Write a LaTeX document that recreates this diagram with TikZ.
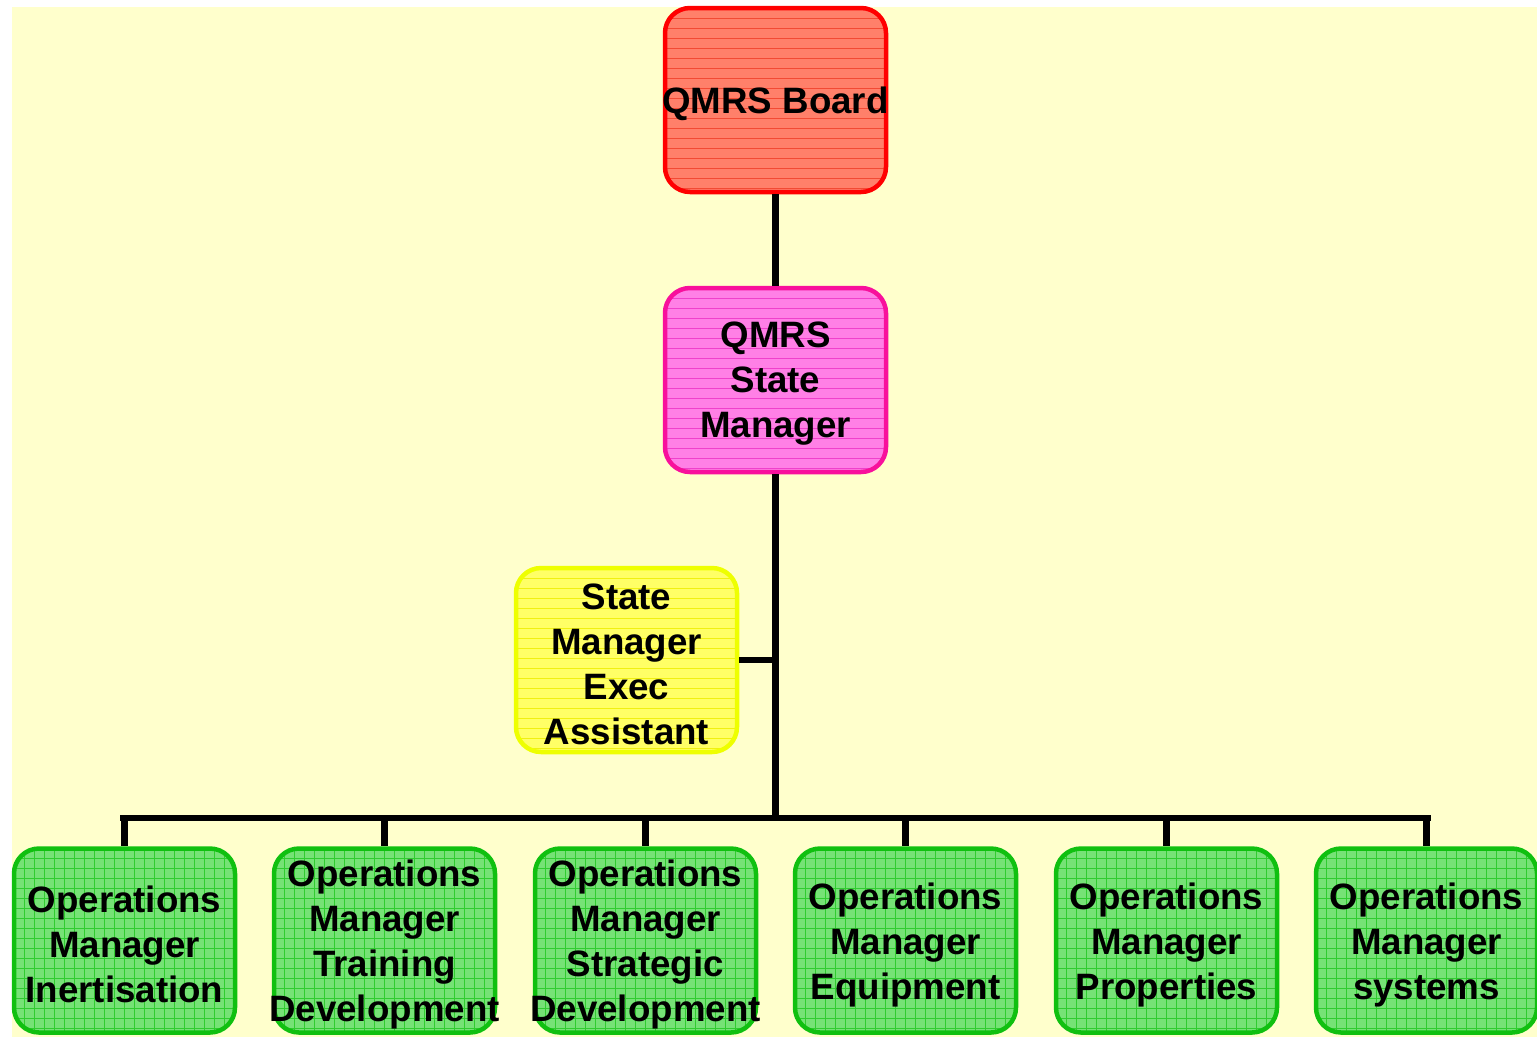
\documentclass[tikz,border=0pt]{standalone}
\usepackage{fontspec}
\setmainfont{Liberation Sans}
\definecolor{bgyel}{HTML}{FFFFCC}
\definecolor{redfill}{HTML}{FF806A}
\definecolor{redline}{HTML}{F24A34}
\definecolor{redborder}{HTML}{FF0000}
\definecolor{pinkfill}{HTML}{FF80E6}
\definecolor{pinkline}{HTML}{F040CC}
\definecolor{pinkborder}{HTML}{F8109C}
\definecolor{yelfill}{HTML}{FFFF66}
\definecolor{yelline}{HTML}{F0F010}
\definecolor{yelborder}{HTML}{EEFF00}
\definecolor{grnfill}{HTML}{76E276}
\definecolor{grnline}{HTML}{30CC30}
\definecolor{grnborder}{HTML}{10C010}
\tikzset{
  orgbox/.style={rounded corners=25pt, line width=4.5pt, minimum width=221pt, minimum height=184pt,
    inner sep=0pt},
  txt/.style={align=center, inner sep=0pt, font={\bfseries\fontsize{36.7}{45}\selectfont}, yshift=-4pt},
  hlines/.style={path picture={
    \foreach \k in {1,...,19}{
      \draw[#1, line width=0.8pt] ([yshift=-\k*10pt]path picture bounding box.north west) -- ([yshift=-\k*10pt]path picture bounding box.north east);}}},
  gridlines/.style={path picture={
    \foreach \k in {1,...,19}{
      \draw[#1, line width=0.8pt] ([yshift=-\k*10pt]path picture bounding box.north west) -- ([yshift=-\k*10pt]path picture bounding box.north east);}
    \foreach \k in {1,...,23}{
      \draw[#1, line width=0.8pt] ([xshift=\k*10pt]path picture bounding box.north west) -- ([xshift=\k*10pt]path picture bounding box.south west);}}},
  boardbox/.style={orgbox, draw=redborder, fill=redfill, hlines=redline},
  mgrbox/.style={orgbox, draw=pinkborder, fill=pinkfill, hlines=pinkline},
  asstbox/.style={orgbox, draw=yelborder, fill=yelfill, hlines=yelline},
  opsbox/.style={orgbox, draw=grnborder, fill=grnfill, gridlines=grnline},
  conn/.style={line width=6.5pt, draw=black}
}
\begin{document}
\begin{tikzpicture}[x=1pt, y=-1pt]
\useasboundingbox (0,0) rectangle (1537,1037);
\fill[bgyel] (12,7) rectangle (1537,1037);

\node[boardbox] (board) at (775.5,100) {};
\node[mgrbox] (state) at (775.5,380) {};
\node[asstbox] (asst) at (626.5,660) {};
\node[opsbox] (o1) at (124.5,940.5) {};
\node[opsbox] (o2) at (384.5,940.5) {};
\node[opsbox] (o3) at (645.5,940.5) {};
\node[opsbox] (o4) at (905.5,940.5) {};
\node[opsbox] (o5) at (1166.5,940.5) {};
\node[opsbox] (o6) at (1426.5,940.5) {};

\node[txt] (tboard) at (board.center) {QMRS Board};
\node[txt] (tstate) at (state.center) {QMRS\\State\\Manager};
\node[txt] (tasst) at (asst.center) {State\\Manager\\Exec\\Assistant};
\node[txt] (t1) at (o1.center) {Operations\\Manager\\Inertisation};
\node[txt] (t2) at (o2.center) {Operations\\Manager\\Training\\Development};
\node[txt] (t3) at (o3.center) {Operations\\Manager\\Strategic\\Development};
\node[txt] (t4) at (o4.center) {Operations\\Manager\\Equipment};
\node[txt] (t5) at (o5.center) {Operations\\Manager\\Properties};
\node[txt] (t6) at (o6.center) {Operations\\Manager\\systems};

\coordinate (bus) at (775.5,818);
\coordinate (bl) at (123,818);
\coordinate (br) at (1428,818);
\coordinate (aj) at (775.5,660);

\draw[conn] (board.south) -- (state.north);
\draw[conn] (state.south) -- (bus);
\draw[conn] (asst.east) -- (aj);
\draw[conn, line cap=rect] (bl) -- (br);
\foreach \n in {o1,o2,o3,o4,o5,o6}{
  \draw[conn] (\n.north |- bus) -- (\n.north);
}
\end{tikzpicture}
\end{document}
